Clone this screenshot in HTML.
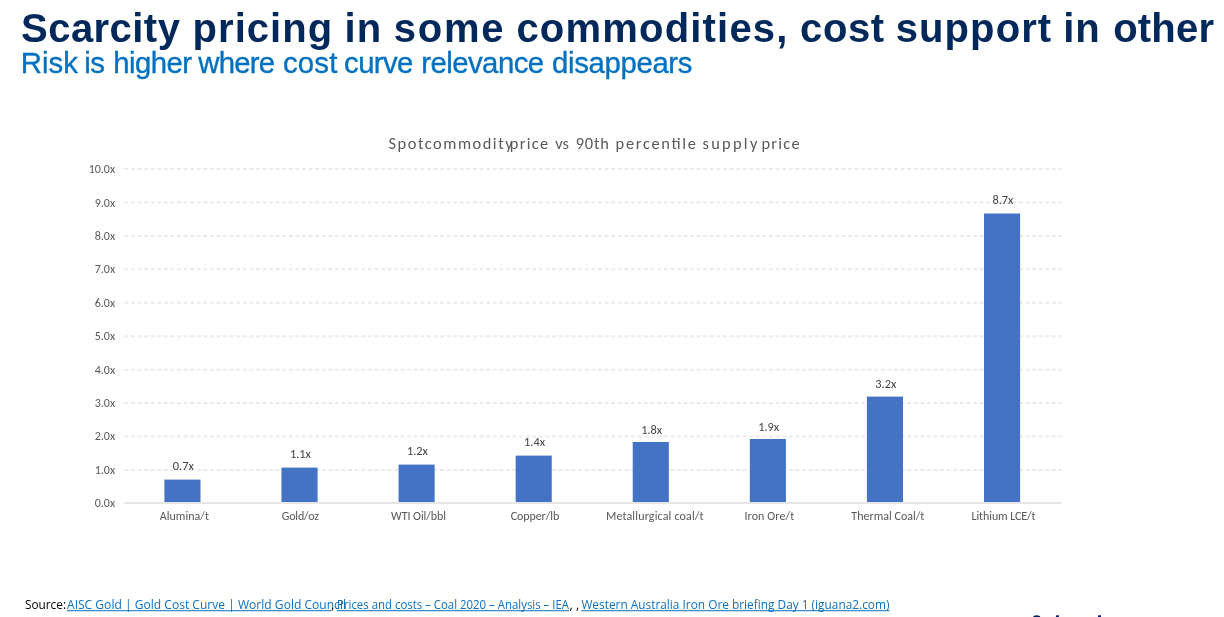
<!DOCTYPE html>
<html><head><meta charset="utf-8"><title>Scarcity pricing</title>
<style>html,body{margin:0;padding:0;background:#fff;width:1224px;height:617px;overflow:hidden;position:relative}</style>
</head><body>
<svg width="1224" height="617" viewBox="0 0 1224 617" style="position:absolute;left:0;top:0;will-change:transform">
<text x="21.06" y="42" font-family="Liberation Sans, Arial, sans-serif" font-weight="bold" font-size="40" fill="#00285A" textLength="158.83" lengthAdjust="spacing">Scarcity</text>
<text x="192.6" y="42" font-family="Liberation Sans, Arial, sans-serif" font-weight="bold" font-size="40" fill="#00285A" textLength="139.51" lengthAdjust="spacing">pricing</text>
<text x="344.53" y="42" font-family="Liberation Sans, Arial, sans-serif" font-weight="bold" font-size="40" fill="#00285A" textLength="36.61" lengthAdjust="spacing">in</text>
<text x="393.65" y="42" font-family="Liberation Sans, Arial, sans-serif" font-weight="bold" font-size="40" fill="#00285A" textLength="109.94" lengthAdjust="spacing">some</text>
<text x="516.41" y="42" font-family="Liberation Sans, Arial, sans-serif" font-weight="bold" font-size="40" fill="#00285A" textLength="270.99" lengthAdjust="spacing">commodities,</text>
<text x="800.07" y="42" font-family="Liberation Sans, Arial, sans-serif" font-weight="bold" font-size="40" fill="#00285A" textLength="84.0" lengthAdjust="spacing">cost</text>
<text x="895.65" y="42" font-family="Liberation Sans, Arial, sans-serif" font-weight="bold" font-size="40" fill="#00285A" textLength="155.54" lengthAdjust="spacing">support</text>
<text x="1063.27" y="42" font-family="Liberation Sans, Arial, sans-serif" font-weight="bold" font-size="40" fill="#00285A" textLength="36.32" lengthAdjust="spacing">in</text>
<text x="1113.16" y="42" font-family="Liberation Sans, Arial, sans-serif" font-weight="bold" font-size="40" fill="#00285A" textLength="100.84" lengthAdjust="spacing">other</text>
<text x="20.75" y="72.9" font-family="Liberation Sans, Arial, sans-serif" font-size="29.33" fill="#0070C0" stroke="#0070C0" stroke-width="0.35" textLength="57.29" lengthAdjust="spacing">Risk</text>
<text x="84.18" y="72.9" font-family="Liberation Sans, Arial, sans-serif" font-size="29.33" fill="#0070C0" stroke="#0070C0" stroke-width="0.35" textLength="20.7" lengthAdjust="spacing">is</text>
<text x="113.17" y="72.9" font-family="Liberation Sans, Arial, sans-serif" font-size="29.33" fill="#0070C0" stroke="#0070C0" stroke-width="0.35" textLength="78.9" lengthAdjust="spacing">higher</text>
<text x="198.26" y="72.9" font-family="Liberation Sans, Arial, sans-serif" font-size="29.33" fill="#0070C0" stroke="#0070C0" stroke-width="0.35" textLength="76.75" lengthAdjust="spacing">where</text>
<text x="282.94" y="72.9" font-family="Liberation Sans, Arial, sans-serif" font-size="29.33" fill="#0070C0" stroke="#0070C0" stroke-width="0.35" textLength="54.42" lengthAdjust="spacing">cost</text>
<text x="344.09" y="72.9" font-family="Liberation Sans, Arial, sans-serif" font-size="29.33" fill="#0070C0" stroke="#0070C0" stroke-width="0.35" textLength="69.32" lengthAdjust="spacing">curve</text>
<text x="421.14" y="72.9" font-family="Liberation Sans, Arial, sans-serif" font-size="29.33" fill="#0070C0" stroke="#0070C0" stroke-width="0.35" textLength="123.01" lengthAdjust="spacing">relevance</text>
<text x="552.0" y="72.9" font-family="Liberation Sans, Arial, sans-serif" font-size="29.33" fill="#0070C0" stroke="#0070C0" stroke-width="0.35" textLength="140.49" lengthAdjust="spacing">disappears</text>
<text x="388.5" y="149" font-family="Carlito, &quot;Liberation Sans&quot;, sans-serif" font-size="16.4" fill="#595959" textLength="124.1" lengthAdjust="spacing">Spotcommodity</text>
<text x="509.8" y="149" font-family="Carlito, &quot;Liberation Sans&quot;, sans-serif" font-size="16.4" fill="#595959" textLength="38.3" lengthAdjust="spacing">price</text>
<text x="555.2" y="149" font-family="Carlito, &quot;Liberation Sans&quot;, sans-serif" font-size="16.4" fill="#595959" textLength="13.8" lengthAdjust="spacing">vs</text>
<text x="575.8" y="149" font-family="Carlito, &quot;Liberation Sans&quot;, sans-serif" font-size="16.4" fill="#595959" textLength="33.0" lengthAdjust="spacing">90th</text>
<text x="615.6" y="149" font-family="Carlito, &quot;Liberation Sans&quot;, sans-serif" font-size="16.4" fill="#595959" textLength="80.3" lengthAdjust="spacing">percentile</text>
<text x="702.5" y="149" font-family="Carlito, &quot;Liberation Sans&quot;, sans-serif" font-size="16.4" fill="#595959" textLength="54.8" lengthAdjust="spacing">supply</text>
<text x="761.4" y="149" font-family="Carlito, &quot;Liberation Sans&quot;, sans-serif" font-size="16.4" fill="#595959" textLength="38.2" lengthAdjust="spacing">price</text>
<line x1="124.4" y1="469.96" x2="1061.5" y2="469.96" stroke="#EBEBEB" stroke-width="2" stroke-dasharray="3.9 2.678"/>
<line x1="124.4" y1="436.52" x2="1061.5" y2="436.52" stroke="#EBEBEB" stroke-width="2" stroke-dasharray="3.9 2.678"/>
<line x1="124.4" y1="403.08" x2="1061.5" y2="403.08" stroke="#EBEBEB" stroke-width="2" stroke-dasharray="3.9 2.678"/>
<line x1="124.4" y1="369.64" x2="1061.5" y2="369.64" stroke="#EBEBEB" stroke-width="2" stroke-dasharray="3.9 2.678"/>
<line x1="124.4" y1="336.20" x2="1061.5" y2="336.20" stroke="#EBEBEB" stroke-width="2" stroke-dasharray="3.9 2.678"/>
<line x1="124.4" y1="302.76" x2="1061.5" y2="302.76" stroke="#EBEBEB" stroke-width="2" stroke-dasharray="3.9 2.678"/>
<line x1="124.4" y1="269.32" x2="1061.5" y2="269.32" stroke="#EBEBEB" stroke-width="2" stroke-dasharray="3.9 2.678"/>
<line x1="124.4" y1="235.88" x2="1061.5" y2="235.88" stroke="#EBEBEB" stroke-width="2" stroke-dasharray="3.9 2.678"/>
<line x1="124.4" y1="202.44" x2="1061.5" y2="202.44" stroke="#EBEBEB" stroke-width="2" stroke-dasharray="3.9 2.678"/>
<line x1="124.4" y1="169.00" x2="1061.5" y2="169.00" stroke="#EBEBEB" stroke-width="2" stroke-dasharray="3.9 2.678"/>
<text x="115.15" y="507.10" text-anchor="end" font-family="Carlito, &quot;Liberation Sans&quot;, sans-serif" font-size="12" fill="#595959">0.0x</text>
<text x="115.15" y="473.70" text-anchor="end" font-family="Carlito, &quot;Liberation Sans&quot;, sans-serif" font-size="12" fill="#595959">1.0x</text>
<text x="115.15" y="440.30" text-anchor="end" font-family="Carlito, &quot;Liberation Sans&quot;, sans-serif" font-size="12" fill="#595959">2.0x</text>
<text x="115.15" y="406.90" text-anchor="end" font-family="Carlito, &quot;Liberation Sans&quot;, sans-serif" font-size="12" fill="#595959">3.0x</text>
<text x="115.15" y="373.50" text-anchor="end" font-family="Carlito, &quot;Liberation Sans&quot;, sans-serif" font-size="12" fill="#595959">4.0x</text>
<text x="115.15" y="340.10" text-anchor="end" font-family="Carlito, &quot;Liberation Sans&quot;, sans-serif" font-size="12" fill="#595959">5.0x</text>
<text x="115.15" y="306.70" text-anchor="end" font-family="Carlito, &quot;Liberation Sans&quot;, sans-serif" font-size="12" fill="#595959">6.0x</text>
<text x="115.15" y="273.30" text-anchor="end" font-family="Carlito, &quot;Liberation Sans&quot;, sans-serif" font-size="12" fill="#595959">7.0x</text>
<text x="115.15" y="239.90" text-anchor="end" font-family="Carlito, &quot;Liberation Sans&quot;, sans-serif" font-size="12" fill="#595959">8.0x</text>
<text x="115.15" y="206.50" text-anchor="end" font-family="Carlito, &quot;Liberation Sans&quot;, sans-serif" font-size="12" fill="#595959">9.0x</text>
<text x="115.15" y="173.10" text-anchor="end" font-family="Carlito, &quot;Liberation Sans&quot;, sans-serif" font-size="12" fill="#595959">10.0x</text>
<rect x="164.39" y="479.60" width="36.1" height="22.40" fill="#4472C4"/>
<text x="183.29" y="470.00" text-anchor="middle" font-family="Carlito, &quot;Liberation Sans&quot;, sans-serif" font-size="12.35" fill="#404040">0.7x</text>
<text x="159.71" y="519.8" font-family="Carlito, &quot;Liberation Sans&quot;, sans-serif" font-size="12" fill="#595959" textLength="49.32" lengthAdjust="spacing">Alumina/t</text>
<rect x="281.48" y="467.60" width="36.1" height="34.40" fill="#4472C4"/>
<text x="300.38" y="458.00" text-anchor="middle" font-family="Carlito, &quot;Liberation Sans&quot;, sans-serif" font-size="12.35" fill="#404040">1.1x</text>
<text x="281.72" y="519.8" font-family="Carlito, &quot;Liberation Sans&quot;, sans-serif" font-size="12" fill="#595959" textLength="37.38" lengthAdjust="spacing">Gold/oz</text>
<rect x="398.56" y="464.60" width="36.1" height="37.40" fill="#4472C4"/>
<text x="417.47" y="455.00" text-anchor="middle" font-family="Carlito, &quot;Liberation Sans&quot;, sans-serif" font-size="12.35" fill="#404040">1.2x</text>
<text x="391.02" y="519.8" font-family="Carlito, &quot;Liberation Sans&quot;, sans-serif" font-size="12" fill="#595959" textLength="55.03" lengthAdjust="spacing">WTI Oil/bbl</text>
<rect x="515.65" y="455.60" width="36.1" height="46.40" fill="#4472C4"/>
<text x="534.55" y="446.00" text-anchor="middle" font-family="Carlito, &quot;Liberation Sans&quot;, sans-serif" font-size="12.35" fill="#404040">1.4x</text>
<text x="510.71" y="519.8" font-family="Carlito, &quot;Liberation Sans&quot;, sans-serif" font-size="12" fill="#595959" textLength="48.53" lengthAdjust="spacing">Copper/lb</text>
<rect x="632.74" y="442.00" width="36.1" height="60.00" fill="#4472C4"/>
<text x="651.64" y="434.00" text-anchor="middle" font-family="Carlito, &quot;Liberation Sans&quot;, sans-serif" font-size="12.35" fill="#404040">1.8x</text>
<text x="605.96" y="519.8" font-family="Carlito, &quot;Liberation Sans&quot;, sans-serif" font-size="12" fill="#595959" textLength="97.68" lengthAdjust="spacing">Metallurgical coal/t</text>
<rect x="749.82" y="439.00" width="36.1" height="63.00" fill="#4472C4"/>
<text x="768.72" y="431.00" text-anchor="middle" font-family="Carlito, &quot;Liberation Sans&quot;, sans-serif" font-size="12.35" fill="#404040">1.9x</text>
<text x="744.47" y="519.8" font-family="Carlito, &quot;Liberation Sans&quot;, sans-serif" font-size="12" fill="#595959" textLength="49.83" lengthAdjust="spacing">Iron Ore/t</text>
<rect x="866.91" y="396.60" width="36.1" height="105.40" fill="#4472C4"/>
<text x="885.81" y="388.00" text-anchor="middle" font-family="Carlito, &quot;Liberation Sans&quot;, sans-serif" font-size="12.35" fill="#404040">3.2x</text>
<text x="851.31" y="519.8" font-family="Carlito, &quot;Liberation Sans&quot;, sans-serif" font-size="12" fill="#595959" textLength="73.09" lengthAdjust="spacing">Thermal Coal/t</text>
<rect x="984.00" y="213.50" width="36.1" height="288.50" fill="#4472C4"/>
<text x="1002.89" y="204.00" text-anchor="middle" font-family="Carlito, &quot;Liberation Sans&quot;, sans-serif" font-size="12.35" fill="#404040">8.7x</text>
<text x="971.52" y="519.8" font-family="Carlito, &quot;Liberation Sans&quot;, sans-serif" font-size="12" fill="#595959" textLength="64.06" lengthAdjust="spacing">Lithium LCE/t</text>
<rect x="124.4" y="502" width="937.1" height="2" fill="#E6E6E6"/>
<text x="25" y="608.9" font-family="&quot;Open Sans&quot;, &quot;Liberation Sans&quot;, sans-serif" font-size="12.6" fill="#000" textLength="41" lengthAdjust="spacingAndGlyphs">Source:</text>
<text x="67" y="608.9" font-family="&quot;Open Sans&quot;, &quot;Liberation Sans&quot;, sans-serif" font-size="12.6" fill="#0E6FBC" textLength="279.0" lengthAdjust="spacingAndGlyphs">AISC Gold | Gold Cost Curve | World Gold Council</text>
<rect x="67" y="610.2" width="264.0" height="1" fill="#0E6FBC"/>
<text x="337" y="608.9" font-family="&quot;Open Sans&quot;, &quot;Liberation Sans&quot;, sans-serif" font-size="12.6" fill="#0E6FBC" textLength="232.0" lengthAdjust="spacingAndGlyphs">Prices and costs – Coal 2020 – Analysis – IEA</text>
<rect x="337" y="610.2" width="232.0" height="1" fill="#0E6FBC"/>
<text x="581.4" y="608.9" font-family="&quot;Open Sans&quot;, &quot;Liberation Sans&quot;, sans-serif" font-size="12.6" fill="#0E6FBC" textLength="308.1" lengthAdjust="spacingAndGlyphs">Western Australia Iron Ore briefing Day 1 (iguana2.com)</text>
<rect x="581.4" y="610.2" width="308.1" height="1" fill="#0E6FBC"/>
<path d="M1033.2 617 L1033.6 616 Q1036.6 614.6 1039.8 616 L1040.2 617 Z" fill="#002060"/>
<path d="M1055.8 617 L1056.3 615.2 L1058.9 615.2 L1058.9 617 Z" fill="#002060"/>
<path d="M1097.9 617 L1098.2 615.2 L1101 615.2 L1101 617 Z" fill="#002060"/>
<text x="331" y="608.9" font-family="&quot;Open Sans&quot;, &quot;Liberation Sans&quot;, sans-serif" font-size="12.6" fill="#000">,</text>
<text x="569.5" y="608.9" font-family="&quot;Open Sans&quot;, &quot;Liberation Sans&quot;, sans-serif" font-size="12.6" fill="#000">, ,</text>
</svg>
</body></html>
